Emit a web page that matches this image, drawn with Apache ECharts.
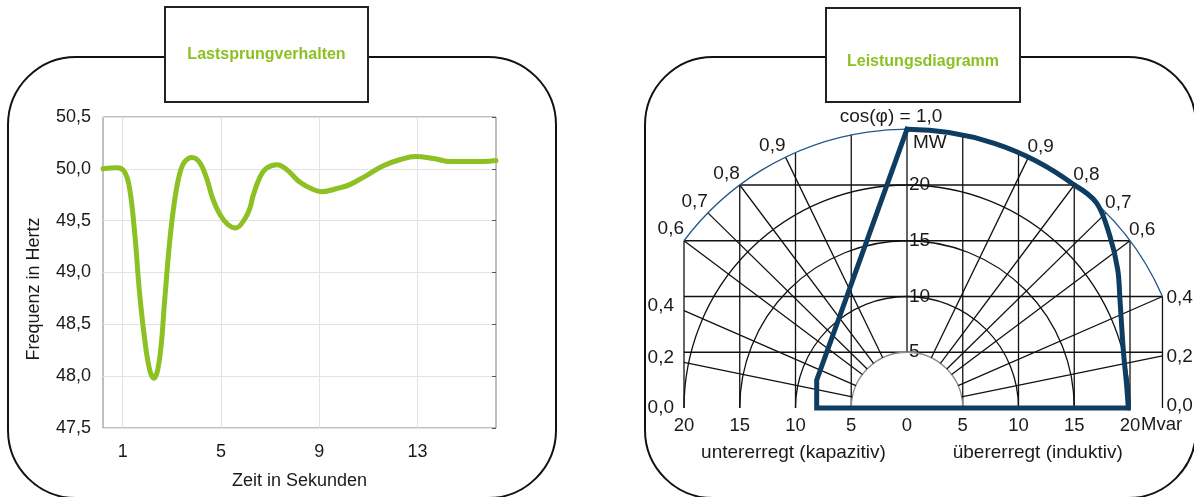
<!DOCTYPE html>
<html>
<head>
<meta charset="utf-8">
<script src="https://cdn.jsdelivr.net/npm/echarts@6/dist/echarts.min.js"></script>
<style>
  html, body { margin: 0; padding: 0; background: #fff; }
  #chart { width: 1194px; height: 497px; }
</style>
</head>
<body>
<div id="chart"></div>
<script>
// ---- Lastsprungverhalten: grid frequency after a load step ----
const timeSeconds = [0.2, 0.76, 1.08, 1.29, 1.49, 1.69, 1.9, 2.1, 2.27, 2.51, 2.71, 2.92, 3.12, 3.33,
  3.53, 3.82, 4.14, 4.43, 4.67, 4.96, 5.3, 5.61, 5.98, 6.18, 6.31, 6.59, 6.88, 7.29, 7.69, 8.22, 8.76,
  9.12, 9.73, 10.27, 10.96, 11.61, 12.31, 12.92, 13.65, 14.35, 15.04, 15.69, 16.2];
const frequencyHz = [50.0, 50.01, 49.97, 49.8, 49.38, 48.8, 48.35, 48.06, 47.98, 48.18, 48.73, 49.31,
  49.7, 49.96, 50.07, 50.11, 50.06, 49.9, 49.71, 49.56, 49.46, 49.43, 49.52, 49.62, 49.74, 49.92, 50.01, 50.04,
  49.99, 49.87, 49.8, 49.78, 49.81, 49.85, 49.94, 50.03, 50.09, 50.12, 50.1, 50.07, 50.07, 50.07, 50.08];
const timeTicks = [1, 5, 9, 13];

// ---- Leistungsdiagramm: generator capability chart, P (MW) over Q (Mvar) ----
const apparentPowerMax = 25;                 // outer circle in MVA
const powerLevels = [5, 10, 15, 20];         // circles and MW grid lines
const reactiveTicks = [-20, -15, -10, -5, 0, 5, 10, 15, 20];
const powerFactors = [0.2, 0.4, 0.6, 0.7, 0.8, 0.9];
const limitFactorUnder = 0.6;                // grid ends at cos 0.6 (untererregt)
const limitFactorOver = 0.4;                 // grid ends at cos 0.4 (übererregt)
// operating limit: lower polyline runs to the top of the circle, the arc follows r = 25,
// then the limit comes down on the inductive side
const capabilityLower = [[19.85, 0], [-8.1, 0], [-8.1, 2.5], [0, 25]];
const capabilityRight = [[15, 20], [17, 18.4], [18.2, 15.4], [18.9, 12.4], [19.1, 9.7], [19.4, 5.2], [19.7, 2], [19.85, 0]];

const FONT = "'Liberation Sans', Arial, sans-serif";
const INK = '#1a1a1a';
const GREEN = '#8cc023';
const NAVY = '#0f3d61';
const GRID_STROKE = { stroke: '#111', lineWidth: 1.3, fill: null };

const R = apparentPowerMax;
const innerR = powerLevels[0];
const edgeUnder = -R * Math.sqrt(1 - limitFactorUnder * limitFactorUnder);
const edgeOver = R * Math.sqrt(1 - limitFactorOver * limitFactorOver);
const halfChord = v => Math.sqrt(Math.max(0, R * R - v * v));
const fmt = v => v.toFixed(1).replace('.', ',');

function seg(api, a, b, style) {
  const p1 = api.coord(a), p2 = api.coord(b);
  return { type: 'line', shape: { x1: p1[0], y1: p1[1], x2: p2[0], y2: p2[1] }, style: style };
}
function label(x, y, text, align, vAlign, size) {
  return {
    type: 'text', x: x, y: y,
    style: { text: text, fill: INK, fontSize: size || 19, fontFamily: FONT, align: align, verticalAlign: vAlign }
  };
}
const custom = (extra) => Object.assign({
  type: 'custom', coordinateSystem: 'cartesian2d', xAxisIndex: 1, yAxisIndex: 2,
  silent: true, clip: false, animation: false
}, extra);

const chart = echarts.init(document.getElementById('chart'));

chart.setOption({
  animation: false,
  backgroundColor: '#fff',
  textStyle: { fontFamily: FONT },
  graphic: [
    { type: 'rect', z: 1, shape: { x: 8, y: 57, width: 548, height: 441, r: 68 },
      style: { fill: null, stroke: '#111', lineWidth: 2 } },
    { type: 'rect', z: 1, shape: { x: 645, y: 57, width: 551, height: 441, r: 68 },
      style: { fill: null, stroke: '#111', lineWidth: 2 } },
    { type: 'rect', z: 2, shape: { x: 165, y: 7, width: 203, height: 95 },
      style: { fill: '#fff', stroke: '#222', lineWidth: 2 } },
    { type: 'rect', z: 2, shape: { x: 826, y: 8, width: 194, height: 94 },
      style: { fill: '#fff', stroke: '#222', lineWidth: 2 } },
    { type: 'text', z: 3, x: 266.5, y: 55,
      style: { text: 'Lastsprungverhalten', fill: GREEN, fontSize: 16, fontWeight: 'bold', fontFamily: FONT, align: 'center', verticalAlign: 'middle' } },
    { type: 'text', z: 3, x: 923, y: 62,
      style: { text: 'Leistungsdiagramm', fill: GREEN, fontSize: 16, fontWeight: 'bold', fontFamily: FONT, align: 'center', verticalAlign: 'middle' } },
    { type: 'text', z: 3, x: 34.5, y: 289, rotation: Math.PI / 2,
      style: { text: 'Frequenz in Hertz', fill: INK, fontSize: 18, fontFamily: FONT, align: 'center', verticalAlign: 'middle' } }
  ],
  grid: [
    { left: 103, top: 117, width: 393, height: 311, show: true, borderColor: '#808080', borderWidth: 1, backgroundColor: '#fff' },
    { left: 684, top: 129.25, width: 479.45, height: 278.75 }
  ],
  xAxis: [
    {
      gridIndex: 0, type: 'value', min: 0.2, max: 16.2,
      axisLine: { show: false },
      axisTick: { show: false, customValues: timeTicks },
      axisLabel: { customValues: timeTicks, fontSize: 18, color: INK, margin: 15, fontFamily: FONT },
      splitLine: { show: true, lineStyle: { color: '#e2e2e2', width: 1 } },
      name: 'Zeit in Sekunden', nameLocation: 'middle', nameGap: 44,
      nameTextStyle: { fontSize: 18, color: INK, fontFamily: FONT }
    },
    {
      gridIndex: 1, type: 'value', min: -20, max: 23,
      axisLine: { show: false }, axisTick: { show: false }, splitLine: { show: false },
      axisLabel: {
        customValues: reactiveTicks, fontSize: 18.5, color: INK, margin: 8, fontFamily: FONT,
        formatter: v => String(Math.abs(v))
      }
    }
  ],
  yAxis: [
    {
      gridIndex: 0, type: 'value', min: 47.5, max: 50.5, interval: 0.5,
      axisLine: { show: false }, axisTick: { show: false },
      axisLabel: { fontSize: 18, color: INK, margin: 12, fontFamily: FONT, formatter: v => fmt(v) },
      splitLine: { show: true, lineStyle: { color: '#e2e2e2', width: 1 } }
    },
    {
      gridIndex: 0, type: 'value', position: 'right', min: 47.5, max: 50.5, interval: 0.5,
      axisLine: { show: false }, axisLabel: { show: false }, splitLine: { show: false },
      axisTick: { show: true, inside: true, length: 4, lineStyle: { color: '#555' } }
    },
    { gridIndex: 1, type: 'value', min: 0, max: 25, show: false }
  ],
  series: [
    {
      type: 'line', xAxisIndex: 0, yAxisIndex: 0, smooth: 0.4, showSymbol: false, silent: true,
      data: timeSeconds.map((t, i) => [t, frequencyHz[i]]),
      lineStyle: { width: 5, color: GREEN, cap: 'round', join: 'round' }
    },
    // MW grid lines, bounded by the outer circle and the cos-limit edges, with their labels
    custom({
      z: 2,
      data: powerLevels.map(p => [0, p]),
      renderItem: (params, api) => {
        const p = api.value(1);
        const w = halfChord(p);
        const c = api.coord([0, p]);
        return { type: 'group', children: [
          seg(api, [Math.max(edgeUnder, -w), p], [Math.min(edgeOver, w), p], GRID_STROKE),
          label(c[0] + 2, c[1], String(p), 'left', 'middle', 19)
        ] };
      }
    }),
    // Mvar grid lines up to the outer circle
    custom({
      z: 2,
      data: reactiveTicks.concat([edgeOver]).map(q => [q, 0]),
      renderItem: (params, api) => {
        const q = api.value(0);
        const bottom = Math.abs(q) < 1e-9 ? innerR : 0;
        return seg(api, [q, bottom], [q, halfChord(q)], GRID_STROKE);
      }
    }),
    // apparent power circles
    custom({
      z: 2,
      data: powerLevels.map(r => [r, 0]),
      renderItem: (params, api) => {
        const r = api.value(0);
        const c = api.coord([0, 0]);
        const rp = api.size([r, 0])[0];
        return {
          type: 'arc',
          shape: { cx: c[0], cy: c[1], r: rp, startAngle: Math.PI, endAngle: 2 * Math.PI, clockwise: true },
          style: { stroke: r === innerR ? '#8c8c8c' : '#111', lineWidth: 1.3, fill: null }
        };
      }
    }),
    // power-factor rays on both sides, with their cos labels
    custom({
      z: 2,
      data: [-1, 1].flatMap(side => powerFactors.map(pf => [side, pf])),
      renderItem: (params, api) => {
        const side = api.value(0), pf = api.value(1);
        const s = Math.sqrt(1 - pf * pf);
        const edge = side < 0 ? -edgeUnder : edgeOver;
        const rEnd = Math.min(R, edge / s);
        const start = [side * s * innerR, pf * innerR];
        const end = [side * s * rEnd, pf * rEnd];
        const ep = api.coord(end);
        const onSide = pf < 0.5;
        let t;
        if (onSide) {
          t = side < 0
            ? label(ep[0] - 10, ep[1] - 4.5, fmt(pf), 'right', 'middle')
            : label(ep[0] + 4, ep[1] + 1, fmt(pf), 'left', 'middle');
        } else {
          t = side < 0
            ? label(ep[0], ep[1] - 2, fmt(pf), 'right', 'bottom')
            : label(ep[0] - 1, ep[1] - 1, fmt(pf), 'left', 'bottom');
        }
        return { type: 'group', children: [seg(api, start, end, GRID_STROKE), t] };
      }
    }),
    // thin outer circle between the two cos limits
    custom({
      z: 3,
      data: [[R, 0]],
      renderItem: (params, api) => {
        const c = api.coord([0, 0]);
        const rp = api.size([api.value(0), 0])[0];
        const a1 = -Math.atan2(halfChord(edgeUnder), edgeUnder);
        const a2 = -Math.atan2(halfChord(edgeOver), edgeOver);
        return {
          type: 'arc',
          shape: { cx: c[0], cy: c[1], r: rp, startAngle: a1, endAngle: a2, clockwise: true },
          style: { stroke: '#24578a', lineWidth: 1.3, fill: null }
        };
      }
    }),
    // operating area outline
    custom({
      z: 4,
      data: [[0, 0]],
      renderItem: (params, api) => {
        const c = api.coord([0, 0]);
        const rp = api.size([R, 0])[0];
        const top = capabilityLower[capabilityLower.length - 1];
        const shoulder = capabilityRight[0];
        const thick = { stroke: NAVY, lineWidth: 5, fill: null };
        return { type: 'group', children: [
          { type: 'polyline', shape: { points: capabilityLower.map(p => api.coord(p)) },
            style: Object.assign({ lineJoin: 'miter', lineCap: 'square' }, thick) },
          { type: 'polyline', shape: { points: capabilityRight.map(p => api.coord(p)), smooth: 0.35 },
            style: Object.assign({ lineJoin: 'round', lineCap: 'round' }, thick) },
          { type: 'arc',
            shape: { cx: c[0], cy: c[1], r: rp,
              startAngle: -Math.atan2(top[1], top[0]), endAngle: -Math.atan2(shoulder[1], shoulder[0]), clockwise: true },
            style: Object.assign({ lineCap: 'round' }, thick) }
        ] };
      }
    }),
    // remaining captions of the capability chart
    custom({
      z: 5,
      data: [[0, 0]],
      renderItem: (params, api) => {
        const left0 = api.coord([edgeUnder, 0]);
        const right0 = api.coord([edgeOver, 0]);
        const topPt = api.coord([0, R]);
        const qMax = api.coord([reactiveTicks[reactiveTicks.length - 1], 0]);
        const under = api.coord([-10, 0]);
        const over = api.coord([edgeOver / 2, 0]);
        return { type: 'group', children: [
          label(left0[0] - 10, left0[1], fmt(0), 'right', 'middle'),
          label(right0[0] + 4, right0[1] - 2, fmt(0), 'left', 'middle'),
          label(topPt[0] - 16, topPt[1] - 12, 'cos(φ) = ' + fmt(1), 'center', 'middle'),
          label(topPt[0] + 6, topPt[1] + 14, 'MW', 'left', 'middle'),
          label(qMax[0] + 11, qMax[1] + 17, 'Mvar', 'left', 'middle', 18.5),
          label(under[0] - 2, under[1] + 45, 'untererregt (kapazitiv)', 'center', 'middle'),
          label(over[0] + 3, over[1] + 45, 'übererregt (induktiv)', 'center', 'middle')
        ] };
      }
    })
  ]
});
</script>
</body>
</html>
